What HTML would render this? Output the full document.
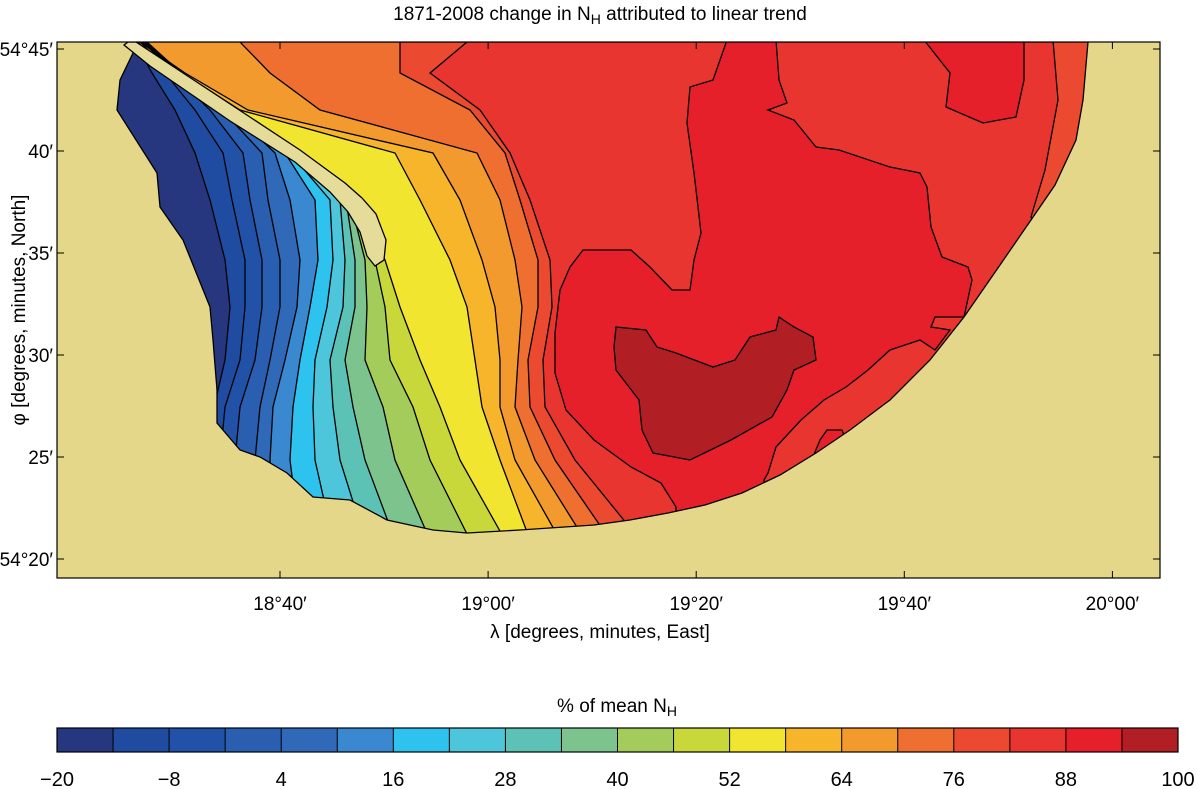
<!DOCTYPE html>
<html><head><meta charset="utf-8"><style>
html,body{margin:0;padding:0;background:#fff;}
svg{display:block;font-family:"Liberation Sans","DejaVu Sans",sans-serif;}
</style></head><body>
<svg id="chart" width="1203" height="789" viewBox="0 0 1203 789" xmlns="http://www.w3.org/2000/svg">
<defs>
<clipPath id="seaClip"><polygon id="seaPoly" points=""/></clipPath>
<clipPath id="axClip"><rect x="57" y="42" width="1103" height="536"/></clipPath>
</defs>
<text x="600" y="20" text-anchor="middle" font-size="19">1871-2008 change in N<tspan font-size="14" dy="4">H</tspan><tspan dy="-4"> attributed to linear trend</tspan></text>
<rect x="57" y="42" width="1103" height="536" fill="#e4d78a"/>
<g id="seaGroup" clip-path="url(#seaClip)"></g>
<g id="overlay" clip-path="url(#axClip)"></g>
<rect x="57" y="42" width="1103" height="536" fill="none" stroke="#000" stroke-width="1.2"/>
<g id="axes"></g>
<text x="600" y="638" text-anchor="middle" font-size="19">λ  [degrees, minutes, East]</text>
<text transform="translate(25,310) rotate(-90)" text-anchor="middle" font-size="19">φ  [degrees, minutes, North]</text>
<text x="617" y="712" text-anchor="middle" font-size="19">% of mean N<tspan font-size="14" dy="4">H</tspan></text>
<g id="cbar"></g>
</svg>
<script>
// ---- data ----
const levels = [-20,-14,-8,-2,4,10,16,22,28,34,40,46,52,58,64,70,76,82,88,94,100];
const bandColors = ["#27377f","#1f4ba0","#2252a8","#2a5eb0","#3069b8","#3a88cf","#2ec3ef","#4dc6dc","#5cc2b5","#7cc38e","#a3cc5a","#c8d83a","#f2e52f","#f7b52c","#f39a2e","#ee6f2f","#eb4a31","#e8352f","#e5202a","#b11e24"];
const rowLats = [42,73,110,153,200,260,307,360,407,460,540];
const contourX = {
 "-14":[135,152,175,195,210,225,230,225,214,214,214],
 "-8": [138,165,195,223,232,245,245,240,225,220,215],
 "-2": [140,172,210,243,250,262,262,255,240,235,230],
 "4":  [142,177,222,262,268,280,280,270,260,255,250],
 "10": [143,178,230,275,290,300,297,285,273,270,275],
 "16": [144,178,232,285,315,318,310,300,293,290,300],
 "22": [144,179,233,290,330,333,327,315,313,315,333],
 "28": [145,179,234,292,340,345,343,330,333,340,365],
 "34": [145,180,235,294,346,355,355,345,353,365,395],
 "40": [146,180,236,296,350,365,367,365,383,395,430],
 "46": [146,181,237,298,354,375,385,390,413,430,470],
 "52": [147,181,238,302,358,385,400,420,440,460,505],
 "58": [135,182,240,395,420,450,467,475,482,500,530],
 "64": [140,185,248,433,460,482,495,500,500,515,560],
 "70": [240,270,320,477,500,515,522,518,515,535,585],
 "76": [400,400,470,505,520,538,538,528,530,555,610],
 "82": [467,430,480,510,530,550,552,543,545,575,640]
};
const seaOutline = [[133,42],[1088,42],[1083,100],[1076,140],[1055,185],[1031,220],[1000,265],[964,317],[930,360],[890,400],[850,430],[816,453],[780,475],[742,493],[705,505],[668,513],[630,520],[594,525],[520,530],[467,533],[433,530],[387,520],[350,500],[313,497],[287,473],[260,457],[240,450],[217,423],[217,390],[213,340],[210,307],[183,240],[160,207],[157,173],[117,110],[120,80],[133,53]];
const region88 = [[776,40],[779,80],[787,103],[768,110],[794,120],[816,147],[839,150],[890,167],[920,173],[927,187],[931,227],[942,257],[968,267],[972,280],[964,317],[935,317],[931,327],[950,330],[935,350],[920,340],[890,350],[868,370],[846,387],[824,400],[801,420],[776,447],[768,473],[764,480],[770,540],[676,540],[676,507],[661,483],[631,467],[594,440],[566,410],[555,373],[555,333],[560,290],[570,267],[583,250],[631,250],[650,267],[672,290],[690,290],[694,260],[701,233],[698,207],[694,173],[687,123],[690,87],[713,80],[720,60],[727,40]];
const region88b = [[924,40],[950,73],[946,107],[983,123],[1016,117],[1024,80],[1024,40]];
const region88c = [[813,457],[820,440],[827,430],[842,430],[846,440],[850,470],[813,470]];
const region94 = [[616,327],[646,330],[657,347],[676,353],[713,367],[735,360],[750,337],[776,330],[779,317],[794,327],[813,337],[816,360],[794,370],[787,390],[772,417],[731,440],[690,460],[653,453],[642,430],[639,400],[616,370],[614,347]];
const regionEdge = [[1053,40],[1058,100],[1045,170],[1031,217],[1040,232],[1100,100],[1100,40]];
const peninsula = [[128,42],[136,42],[300,150],[345,183],[362,198],[376,214],[386,240],[384,260],[375,266],[367,256],[360,232],[348,212],[330,192],[295,162],[230,121],[150,66],[124,45]];
const xTicks = ["18°40′","19°00′","19°20′","19°40′","20°00′"];
const xTickMin = [40,60,80,100,120];
const yTicks = ["54°45′","40′","35′","30′","25′","54°20′"];
const yTickMin = [45,40,35,30,25,20];
const cbarTicks = [-20,-8,4,16,28,40,52,64,76,88,100];

// ---- scales ----
const lonX = m => 280 + (m-40)*(208.1/20);
const latY = m => 559 - (m-20)*(102/5);
const cbX = v => 57 + (v+20)*(1121/120);
const NS="http://www.w3.org/2000/svg";
function mk(tag, attrs, parent){const e=document.createElementNS(NS,tag);for(const k in attrs)e.setAttribute(k,attrs[k]);parent.appendChild(e);return e;}
const pts = a => a.map(p=>p[0]+","+p[1]).join(" ");

document.getElementById('seaPoly').setAttribute('points', pts(seaOutline));
const sea = document.getElementById('seaGroup');
const base = mk('polygon',{points:pts(seaOutline),fill:bandColors[17]},sea);


const bKeys = levels.slice(1,18);
for(let k=0;k<bKeys.length;k++){
  const right = contourX[String(bKeys[k])].map((x,i)=>[x,rowLats[i]]);
  const left = k===0 ? rowLats.map(y=>[50,y]) : contourX[String(bKeys[k-1])].map((x,i)=>[x,rowLats[i]]);
  const poly = left.concat(right.slice().reverse());
  const el = mk('polygon',{points:pts(poly),fill:bandColors[k]},sea);
  
  
}
const edge = mk('polygon',{points:pts(regionEdge),fill:bandColors[16],stroke:"#000","stroke-width":1.3},sea);


[region88,region88b,region88c].forEach((r,i)=>{
  const el = mk('polygon',{points:pts(r),fill:bandColors[18],stroke:"#000","stroke-width":1.3},sea);
  
  
});
const dk = mk('polygon',{points:pts(region94),fill:bandColors[19],stroke:"#000","stroke-width":1.3},sea);


bKeys.forEach(v=>{
  const line = contourX[String(v)].map((x,i)=>[x,rowLats[i]]);
  const el = mk('polyline',{points:pts(line),fill:"none",stroke:"#000","stroke-width":1.3},sea);
  
  
});
const ov = document.getElementById('overlay');
const coast = mk('polygon',{points:pts(seaOutline),fill:"none",stroke:"#000","stroke-width":1.3},ov);


const pen = mk('polygon',{points:pts(peninsula),fill:"#e6dc9a",stroke:"#000","stroke-width":1.3},ov);



const ax = document.getElementById('axes');
xTicks.forEach((t,i)=>{
  const x = lonX(xTickMin[i]);
  mk('line',{x1:x,x2:x,y1:578,y2:571,stroke:"#000"},ax);
  mk('line',{x1:x,x2:x,y1:42,y2:49,stroke:"#000"},ax);
  const tx = mk('text',{x:x,y:610,"text-anchor":"middle","font-size":19},ax);
  tx.textContent = t;
  
  
});
yTicks.forEach((t,i)=>{
  const y = latY(yTickMin[i]);
  mk('line',{x1:57,x2:64,y1:y,y2:y,stroke:"#000"},ax);
  mk('line',{x1:1160,x2:1153,y1:y,y2:y,stroke:"#000"},ax);
  const tx = mk('text',{x:53,y:y+7,"text-anchor":"end","font-size":19},ax);
  tx.textContent = t;
  
  
});
const cb = document.getElementById('cbar');
for(let k=0;k<bandColors.length;k++){
  const x0=cbX(levels[k]), x1=cbX(levels[k+1]);
  const r = mk('rect',{x:x0,y:728,width:x1-x0+0.5,height:24,fill:bandColors[k]},cb);
  
  
  if(k>0) mk('line',{x1:x0,x2:x0,y1:728,y2:752,stroke:"#000","stroke-width":1},cb);
}
mk('rect',{x:57,y:728,width:1121,height:24,fill:"none",stroke:"#000","stroke-width":1.2},cb);
cbarTicks.forEach(v=>{
  const t = mk('text',{x:cbX(v),y:786,"text-anchor":"middle","font-size":20},cb);
  t.textContent = v<0 ? "−"+(-v) : String(v);
  
  
});
</script>
</body></html>
